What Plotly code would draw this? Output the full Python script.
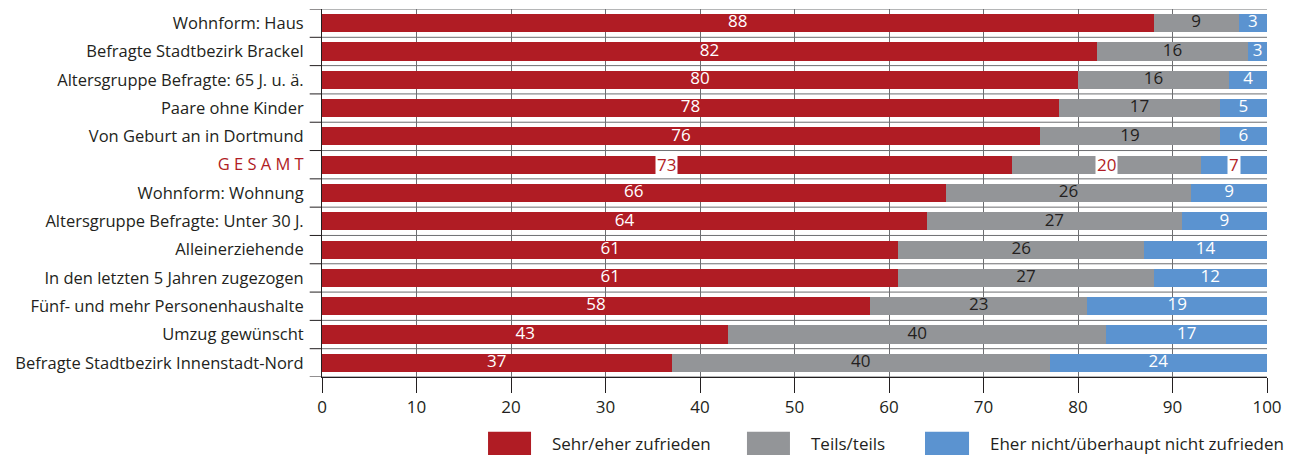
import plotly.graph_objects as go

kategorien = [
    "Wohnform: Haus",
    "Befragte Stadtbezirk Brackel",
    "Altersgruppe Befragte: 65 J. u. ä.",
    "Paare ohne Kinder",
    "Von Geburt an in Dortmund",
    "GESAMT",
    "Wohnform: Wohnung",
    "Altersgruppe Befragte: Unter 30 J.",
    "Alleinerziehende",
    "In den letzten 5 Jahren zugezogen",
    "Fünf- und mehr Personenhaushalte",
    "Umzug gewünscht",
    "Befragte Stadtbezirk Innenstadt-Nord",
]
zufrieden = [88, 82, 80, 78, 76, 73, 66, 64, 61, 61, 58, 43, 37]
teils = [9, 16, 16, 17, 19, 20, 26, 27, 26, 27, 23, 40, 40]
nicht_zufrieden = [3, 3, 4, 5, 6, 7, 9, 9, 14, 12, 19, 17, 24]
serien = ["Sehr/eher zufrieden", "Teils/teils", "Eher nicht/überhaupt nicht zufrieden"]

ROT = "#b01c24"
GRAU = "#939598"
BLAU = "#5b93d0"
DUNKEL = "#231f20"
FONT = "Open Sans"
GESAMT_IDX = kategorien.index("GESAMT")

ticktext = []
for k in kategorien:
    if k == "GESAMT":
        ticktext.append("<span style='color:%s'>G E S A M T</span>" % ROT)
    else:
        ticktext.append(k)

pos = list(range(len(kategorien)))
fig = go.Figure()

# gestapelte Balken (Achse endet bei 100, Rundungsüberhang wird abgeschnitten)
for name, werte, farbe in [
    (serien[0], zufrieden, ROT),
    (serien[1], teils, GRAU),
    (serien[2], nicht_zufrieden, BLAU),
]:
    fig.add_trace(go.Bar(
        y=pos, x=werte, name=name, orientation="h",
        marker=dict(color=farbe, line=dict(width=0)),
        width=0.64, showlegend=False, hoverinfo="x+name",
    ))

# Beschriftungen mittig im sichtbaren Segment
grenzen = []
for i in pos:
    b = min(zufrieden[i], 100)
    c = min(zufrieden[i] + teils[i], 100)
    grenzen.append((0, b, c, 100))

for k, (werte, tfarbe) in enumerate([(zufrieden, "white"), (teils, DUNKEL), (nicht_zufrieden, "white")]):
    xs, ys, ts = [], [], []
    for i in pos:
        if i == GESAMT_IDX:
            continue
        g = grenzen[i]
        xs.append((g[k] + g[k + 1]) / 2)
        ys.append(i)
        ts.append(str(werte[i]))
    fig.add_trace(go.Scatter(
        x=xs, y=ys, text=ts, mode="text", showlegend=False, hoverinfo="skip",
        textfont=dict(color=tfarbe, size=17, family=FONT), cliponaxis=False,
    ))

# GESAMT: Werte in weißen Kästchen mit roter Schrift
g = grenzen[GESAMT_IDX]
for k, werte in enumerate([zufrieden, teils, nicht_zufrieden]):
    fig.add_annotation(
        x=(g[k] + g[k + 1]) / 2, y=GESAMT_IDX, text=str(werte[GESAMT_IDX]),
        showarrow=False, font=dict(color=ROT, size=17, family=FONT),
        bgcolor="white", borderpad=1,
    )

# Legende mit großen Farbfeldern
legende = [
    (0.1757, 0.2212, 0.2413, ROT, serien[0]),
    (0.4497, 0.4952, 0.5153, GRAU, serien[1]),
    (0.6381, 0.6847, 0.7048, BLAU, serien[2]),
]
for x0, x1, xt, farbe, name in legende:
    fig.add_shape(type="rect", xref="paper", yref="paper",
                  x0=x0, x1=x1, y0=-0.212, y1=-0.149,
                  fillcolor=farbe, line=dict(width=0))
    fig.add_annotation(xref="paper", yref="paper", x=xt, y=-0.181,
                       yanchor="middle", text=name, showarrow=False, xanchor="left",
                       font=dict(size=17, color=DUNKEL, family=FONT))

# Trennlinien zwischen den Kategorien
for i in range(len(kategorien) + 1):
    yb = i - 0.5
    fig.add_shape(type="line", xref="paper", yref="y", layer="below",
                  x0=0, x1=1, y0=yb, y1=yb,
                  line=dict(color="#6d6e71", width=1))
    fig.add_shape(type="line", xref="paper", yref="y", layer="below",
                  x0=-0.013, x1=0, y0=yb, y1=yb,
                  line=dict(color=DUNKEL, width=1))

# Seite hat 8px Rand, daher Figur etwas kleiner
fig.update_layout(
    barmode="stack",
    width=1286, height=448,
    margin=dict(l=314, r=27, t=1, b=79),
    plot_bgcolor="white", paper_bgcolor="white",
    font=dict(family=FONT, size=17, color=DUNKEL),
)
fig.update_xaxes(
    range=[0, 100], dtick=10, tick0=0, automargin=False,
    showgrid=True, gridcolor="#6d6e71", gridwidth=1,
    ticks="outside", ticklen=15, tickcolor=DUNKEL,
    showline=True, linecolor=DUNKEL, linewidth=1,
    zeroline=False, tickfont=dict(size=17),
)
fig.update_yaxes(
    tickvals=pos, ticktext=ticktext, automargin=False,
    range=[12.5, -0.5],
    showgrid=False, ticks="", ticklabelstandoff=14,
    showline=True, linecolor=DUNKEL, linewidth=1,
    zeroline=False, tickfont=dict(size=16.5),
)

fig.write_html("out.html")
